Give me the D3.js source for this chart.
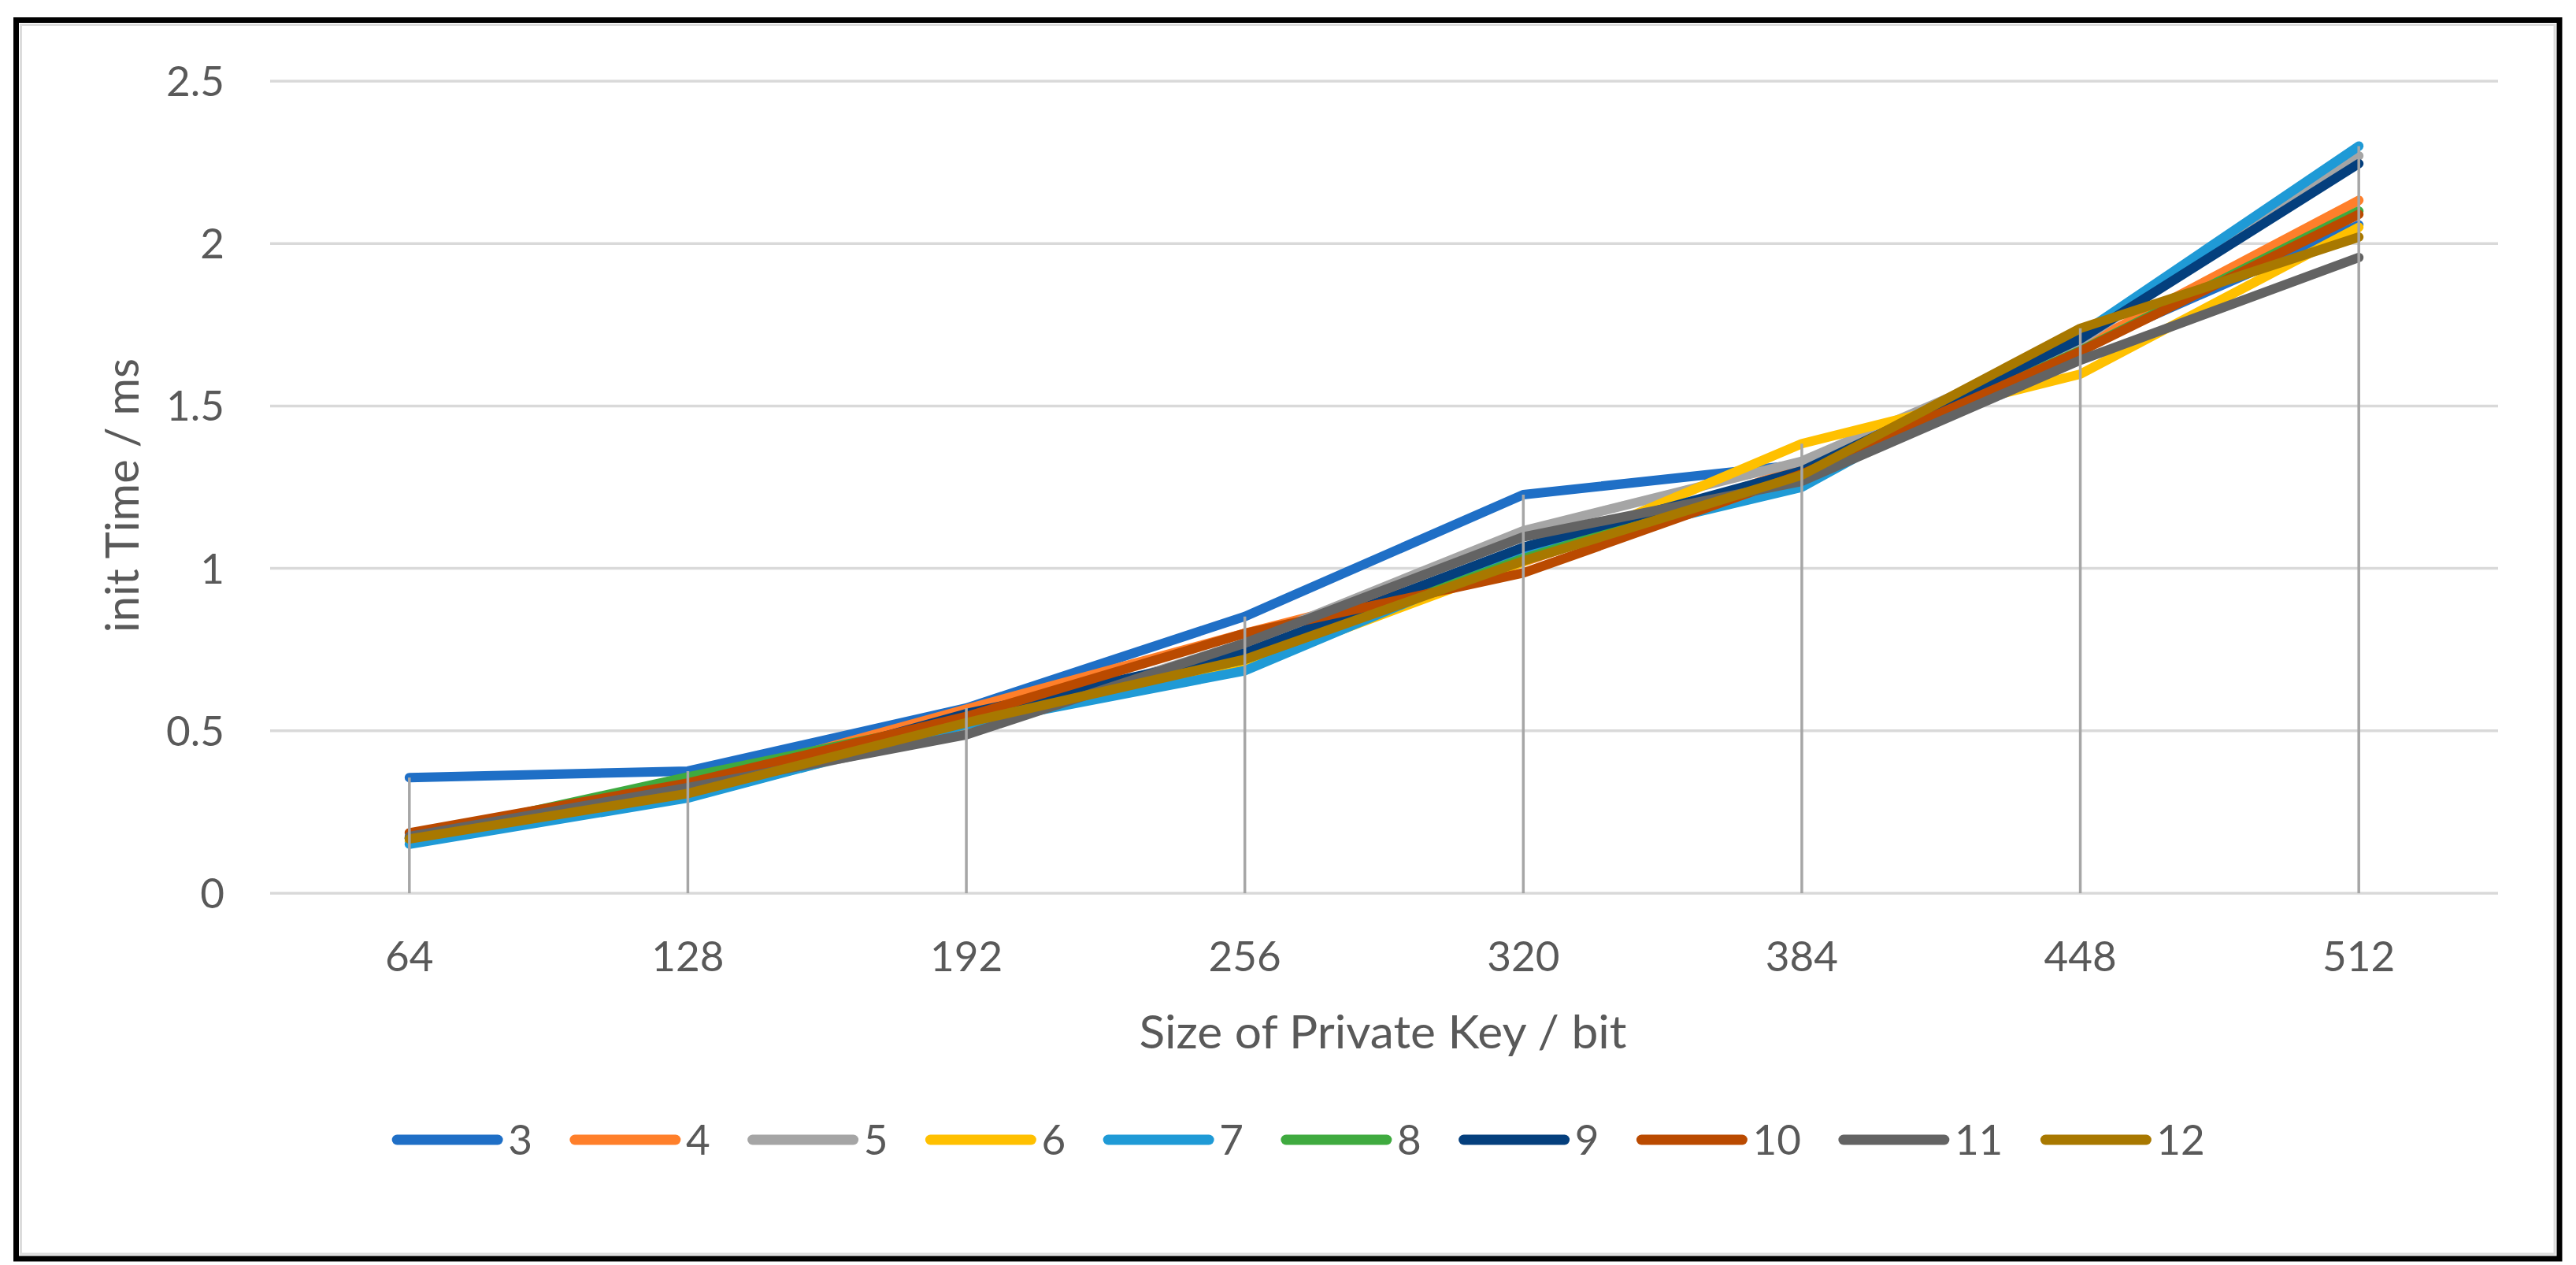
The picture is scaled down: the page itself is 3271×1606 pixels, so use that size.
<!DOCTYPE html>
<html>
<head>
<meta charset="utf-8">
<script src="https://cdn.jsdelivr.net/npm/d3@7"></script>
<style>
  body { margin: 0; background: #fff; }
  text { font-family: Lato, "Open Sans", sans-serif; fill: #595959; }
</style>
</head>
<body>
<svg width="3271" height="1606"></svg>
<script>
// key sizes on the x axis
var keySizes = [64, 128, 192, 256, 320, 384, 448, 512]
var seriesNames = ['3', '4', '5', '6', '7', '8', '9', '10', '11', '12']
var colors = ['#1f6fc6', '#ff7f2a', '#a5a5a5', '#ffc000', '#1f9ad6',
              '#3faa3f', '#043f7d', '#ba4a00', '#636363', '#a87800']
var yTicks = [0, 0.5, 1, 1.5, 2, 2.5]

var s3  = [0.356, 0.376, 0.570, 0.852, 1.227, 1.320, 1.680, 2.057]
var s4  = [0.170, 0.330, 0.567, 0.800, 1.020, 1.310, 1.680, 2.133]
var s5  = [0.170, 0.310, 0.500, 0.770, 1.116, 1.330, 1.700, 2.270]
var s6  = [0.160, 0.295, 0.520, 0.700, 1.020, 1.384, 1.598, 2.050]
var s7  = [0.151, 0.293, 0.520, 0.685, 1.046, 1.250, 1.720, 2.300]
var s8  = [0.170, 0.358, 0.535, 0.720, 1.030, 1.290, 1.670, 2.100]
var s9  = [0.170, 0.315, 0.553, 0.740, 1.065, 1.300, 1.706, 2.246]
var s10 = [0.186, 0.339, 0.544, 0.800, 0.986, 1.290, 1.668, 2.090]
var s11 = [0.175, 0.325, 0.488, 0.770, 1.097, 1.268, 1.641, 1.957]
var s12 = [0.167, 0.307, 0.525, 0.720, 1.023, 1.287, 1.739, 2.020]
var allSeries = [s3, s4, s5, s6, s7, s8, s9, s10, s11, s12]

var svg = d3.select('svg')

// frame round the chart
svg.append('rect').attr('x', 20.5).attr('y', 25.5).attr('width', 3229.5).attr('height', 1572.5)
   .attr('fill', 'none').attr('stroke', '#000').attr('stroke-width', 7)
svg.append('rect').attr('x', 26.5).attr('y', 31.5).attr('width', 3217.5).attr('height', 1560.5)
   .attr('fill', 'none').attr('stroke', '#dcdcdc').attr('stroke-width', 3)

var x = d3.scalePoint().domain(keySizes).range([343, 3172]).padding(0.5)
var y = d3.scaleLinear().domain([0, 2.5]).range([1134, 103])

// horizontal gridlines
svg.append('g').selectAll('line').data(yTicks).enter().append('line')
   .attr('x1', 343).attr('x2', 3172)
   .attr('y1', function(d){ return y(d) }).attr('y2', function(d){ return y(d) })
   .attr('stroke', '#d9d9d9').attr('stroke-width', 3.5)

// y tick labels
svg.append('g').selectAll('text').data(yTicks).enter().append('text')
   .attr('x', 285).attr('y', function(d){ return y(d) })
   .attr('dy', '0.36em').attr('text-anchor', 'end')
   .style('font-size', '53px')
   .text(function(d){ return d })

// x tick labels
svg.append('g').selectAll('text').data(keySizes).enter().append('text')
   .attr('x', function(d){ return x(d) }).attr('y', 1214)
   .attr('dy', '0.36em').attr('text-anchor', 'middle')
   .style('font-size', '53px')
   .text(function(d){ return d })

// series lines
var line = d3.line()
   .x(function(d, i){ return x(keySizes[i]) })
   .y(function(d){ return y(d) })

svg.append('g').selectAll('path').data(allSeries).enter().append('path')
   .attr('d', line)
   .attr('fill', 'none')
   .attr('stroke', function(d, i){ return colors[i] })
   .attr('stroke-width', 12)
   .attr('stroke-linejoin', 'round')
   .attr('stroke-linecap', 'round')

// drop lines from the highest value to the axis
var maxima = keySizes.map(function(k, i){ return d3.max(allSeries, function(s){ return s[i] }) })
svg.append('g').selectAll('line').data(maxima).enter().append('line')
   .attr('x1', function(d, i){ return x(keySizes[i]) })
   .attr('x2', function(d, i){ return x(keySizes[i]) })
   .attr('y1', function(d){ return y(d) }).attr('y2', y(0))
   .attr('stroke', '#a6a6a6').attr('stroke-width', 3.5)

// axis titles
svg.append('text').attr('x', 1756).attr('y', 1310).attr('dy', '0.36em')
   .attr('text-anchor', 'middle').style('font-size', '58px')
   .attr('textLength', 619).attr('lengthAdjust', 'spacingAndGlyphs')
   .text('Size of Private Key / bit')

svg.append('text').attr('transform', 'translate(155,629) rotate(-90)')
   .attr('dy', '0.36em').attr('text-anchor', 'middle').style('font-size', '58px')
   .attr('textLength', 348).attr('lengthAdjust', 'spacingAndGlyphs')
   .text('init Time / ms')

// legend
var legend = svg.append('g')
var items = legend.selectAll('g').data(seriesNames).enter().append('g')
items.append('line').attr('x1', 6).attr('x2', 134).attr('y1', 0).attr('y2', 0)
   .attr('stroke', function(d, i){ return colors[i] })
   .attr('stroke-width', 13).attr('stroke-linecap', 'round')
items.append('text').attr('x', 147).attr('dy', '0.36em')
   .style('font-size', '53px').text(function(d){ return d })

var pos = 0
items.each(function(){
  var g = d3.select(this)
  g.attr('transform', 'translate(' + pos + ',0)')
  pos += 147 + g.select('text').node().getComputedTextLength() + 48
})
var total = pos - 48
legend.attr('transform', 'translate(' + (1649 - total / 2) + ',1447)')
</script>
</body>
</html>
